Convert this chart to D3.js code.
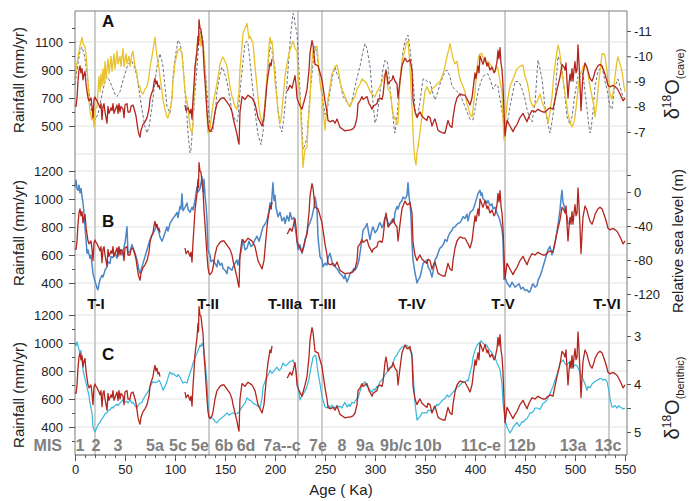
<!DOCTYPE html>
<html><head><meta charset="utf-8">
<script src="https://cdn.jsdelivr.net/npm/d3@7"></script>
<style>
body{margin:0;background:#fff}
svg{display:block}
text{font-family:"Liberation Sans",Arial,Helvetica,sans-serif}
</style>
</head><body>
<svg id="c" width="692" height="501"></svg>
<script>
// ---------------- DATA ----------------
// Rainfall reconstruction (mm/yr) vs age (ka); null = gap
const rainfall = [[0,650],[1,640],[2,700],[3,820],[4,900],[5,930],[6,880],[7,910],[8,830],[9,870],[10,890],[11,800],[12,750],[13,700],[14,680],[16,700],[17,640],[18,560],[19,690],[20,707],[21,690],[22,680],[24,650],[25,630],[26,660],[27,545],[28,640],[29,660],[30,600],[31,560],[32,520],[33,640],[34,590],[36,630],[37,610],[38,660],[39,590],[40,610],[42,650],[43,590],[44,660],[45,600],[46,640],[48,620],[49,560],[50,650],[52,660],[53,600],[55,600],[56,640],[58,650],[60,600],[61,570],[62,520],[63,470],[64,440],[65,420],[66,470],[68,510],[70,530],[72,560],[74,620],[75,690],[76,720],[78,760],[79,810],[80,840],[81,800],[82,820],[83,780],[84,790],[85,760],[86,null],
[109,null],[110,650],[111,610],[113,630],[115,590],[116,620],[117,550],[118,690],[119,800],[120,920],[121,980],[122,1040],[123,1140],[123.5,1080],[124,1260],[125,1200],[126,1190],[127,1120],[128,1070],[129,920],[130,820],[131,710],[132,600],[133,510],[134,470],[135,460],[137,480],[138,510],[140,600],[142,660],[145,690],[147,700],[149,700],[150,690],[152,670],[155,640],[157,600],[158,560],[160,500],[162,440],[163,400],[164,370],[165,600],[167,710],[170,690],[173,720],[175,710],[177,700],[180,660],[183,560],[185,530],[187,500],[189,560],[190,640],[192,800],[193,860],[195,950],[196,930],[197,980],[198,null],
[211,null],[212,750],[213,760],[215,790],[217,770],[220,860],[221,800],[222,700],[224,660],[227,620],[230,700],[232,760],[234,900],[235,1020],[237,1110],[238,1080],[240,940],[243,930],[245,880],[247,830],[250,680],[252,600],[253,540],[255,530],[258,540],[260,520],[262,550],[265,490],[267,480],[270,465],[273,470],[275,470],[278,480],[280,500],[282,560],[283,660],[285,680],[287,710],[288,690],[290,700],[292,710],[294,660],[295,650],[297,620],[298,640],[300,650],[302,660],[303,690],[305,700],[307,690],[308,720],[310,860],[311,900],[312,860],[313,800],[315,820],[317,830],[318,860],[320,820],[322,800],[323,700],[325,820],[327,930],[328,950],[330,985],[332,960],[333,960],[335,975],[337,900],[338,690],[340,600],[342,560],[344,590],[345,600],[347,570],[350,550],[352,540],[353,570],[355,560],[357,500],[359,540],[360,550],[363,470],[365,460],[368,450],[370,450],[373,540],[375,500],[377,490],[378,560],[380,650],[382,700],[385,730],[388,720],[390,720],[393,680],[395,650],[397,700],[398,760],[400,880],[401,840],[403,930],[404,880],[405,1000],[407,960],[408,940],[410,990],[412,930],[413,950],[415,900],[417,920],[419,880],[420,890],[422,960],[423,1040],[424,980],[425,1060],[426,950],[427,900],[428,790],[429,600],[430,430],[432,540],[435,500],[438,460],[440,490],[442,510],[445,560],[448,590],[450,560],[452,530],[454,570],[457,610],[460,600],[463,620],[465,610],[468,600],[470,600],[473,620],[475,630],[478,620],[480,690],[482,760],[483,790],[485,850],[487,940],[489,920],[490,900],[491,950],[492,820],[493,700],[494,800],[495,870],[496,820],[497,910],[498,820],[499,900],[500,960],[501,880],[502,900],[503,1080],[504,950],[505,800],[506,610],[507,750],[508,870],[510,950],[512,920],[513,890],[515,840],[517,820],[519,860],[520,890],[523,930],[525,940],[527,930],[530,870],[532,820],[533,790],[535,780],[538,790],[540,780],[542,770],[545,730],[548,680],[550,700]];

// Cave δ18O (‰)
const caveD18O = [[0,-9.06],[1,-9.5],[3,-9.97],[5,-10.4],[7,-10.76],[8,-10.5],[10,-10.37],[11,-10.1],[12,-9.57],[13,-9.0],[14,-8.27],[15,-7.8],[17,-7.48],[18,-7.7],[19,-7.2],[20,-7.9],[22,-8.0],[23,-8.6],[24,-9.2],[25,-8.6],[26,-9.3],[27,-8.8],[28,-9.5],[29,-8.9],[30,-9.8],[31,-9.1],[33,-9.9],[34,-9.3],[36,-10.0],[37,-9.4],[39,-10.1],[40,-9.5],[42,-10.2],[43,-9.7],[45,-10.0],[46,-9.6],[48,-10.3],[49,-9.6],[51,-10.1],[52,-9.7],[54,-10.0],[55,-9.6],[57,-10.1],[58,-10.2],[60,-9.6],[62,-9.3],[63,-8.9],[65,-8.8],[66,-8.6],[68,-8.5],[70,-8.7],[72,-8.8],[74,-9.2],[75,-9.57],[77,-10.0],[78,-10.25],[80,-10.76],[81,-10.3],[82,-10.0],[84,-9.5],[85,-9.19],[87,-8.6],[88,-8.27],[90,-7.9],[92,-7.6],[93,-7.55],[95,-7.9],[97,-8.3],[98,-9.0],[100,-9.73],[102,-10.1],[103,-10.25],[105,-10.3],[107,-10.1],[108,-9.6],[110,-8.6],[112,-8.2],[113,-8.0],[114,-7.6],[115,-7.2],[117,-6.96],[118,-7.3],[119,-8.5],[120,-9.4],[122,-10.25],[123,-10.8],[124,-10.7],[125,-10.9],[126,-10.4],[127,-10.6],[128,-10.5],[130,-9.6],[131,-8.6],[132,-7.74],[133,-6.96],[135,-7.1],[136,-7.5],[138,-8.1],[140,-8.5],[142,-8.94],[144,-9.4],[145,-9.7],[147,-9.9],[148,-9.97],[150,-9.8],[152,-9.6],[154,-9.1],[155,-8.8],[157,-8.4],[158,-8.3],[160,-8.0],[162,-7.9],[164,-8.6],[165,-9.5],[167,-10.4],[168,-10.9],[170,-11.1],[172,-11.3],[173,-11.0],[174,-10.7],[175,-10.8],[177,-10.6],[178,-10.5],[180,-9.6],[182,-8.8],[184,-8.0],[185,-7.7],[187,-7.4],[188,-7.35],[190,-8.2],[192,-9.2],[194,-10.4],[195,-10.76],[196,-10.5],[197,-10.6],[198,-10.2],[200,-9.0],[202,-8.3],[203,-7.8],[205,-7.35],[206,-7.5],[208,-8.3],[210,-9.2],[212,-9.7],[214,-10.1],[215,-10.25],[217,-10.5],[218,-10.6],[220,-10.3],[222,-10.2],[223,-9.3],[225,-8.3],[226,-7.5],[227,-6.68],[228,-5.6],[229,-6.0],[230,-6.3],[232,-6.4],[233,-7.2],[235,-8.3],[236,-9.3],[238,-10.25],[240,-10.3],[242,-10.4],[243,-9.9],[245,-9.0],[247,-8.4],[248,-8.0],[249,-7.5],[250,-7.08],[251,-7.6],[253,-8.3],[255,-8.8],[257,-9.3],[259,-9.5],[260,-9.6],[262,-9.65],[264,-9.3],[265,-9.0],[267,-8.7],[270,-8.4],[272,-8.2],[275,-8.0],[277,-8.2],[280,-8.4],[282,-8.7],[285,-8.9],[287,-9.1],[290,-9.0],[292,-8.9],[295,-8.6],[297,-8.5],[300,-8.4],[302,-8.6],[305,-8.8],[307,-9.0],[310,-9.3],[312,-9.1],[313,-8.7],[315,-8.6],[317,-8.0],[319,-7.5],[320,-7.6],[322,-7.3],[323,-7.35],[324,-8.2],[325,-9.1],[327,-9.8],[330,-10.25],[331,-10.5],[333,-10.6],[334,-10.1],[335,-9.6],[336,-8.7],[337,-8.0],[338,-7.0],[339,-6.3],[340,-5.9],[341,-5.7],[342,-6.2],[343,-6.4],[345,-7.0],[347,-7.6],[349,-8.3],[350,-8.6],[352,-8.8],[355,-8.5],[357,-8.7],[360,-8.8],[362,-8.9],[365,-9.0],[368,-9.3],[370,-9.6],[372,-10.0],[374,-10.3],[375,-10.5],[376,-10.3],[378,-9.9],[380,-9.7],[382,-9.8],[384,-9.3],[385,-9.1],[387,-8.9],[388,-8.8],[390,-8.6],[392,-8.1],[393,-8.0],[395,-7.7],[397,-7.6],[398,-7.9],[400,-8.6],[402,-9.5],[403,-9.9],[405,-10.1],[407,-10.1],[409,-9.8],[410,-9.9],[412,-9.6],[413,-9.8],[415,-9.7],[417,-9.6],[419,-9.4],[420,-9.4],[422,-9.6],[423,-9.5],[425,-9.0],[427,-8.6],[428,-7.5],[429,-6.68],[430,-7.3],[432,-8.1],[434,-8.6],[435,-8.8],[437,-9.0],[440,-9.3],[442,-9.5],[445,-9.6],[448,-9.65],[450,-9.2],[452,-9.0],[454,-8.6],[455,-8.3],[457,-8.1],[458,-8.0],[460,-8.1],[462,-8.2],[464,-8.4],[465,-8.5],[467,-8.2],[470,-7.9],[472,-7.6],[473,-7.35],[475,-7.8],[477,-8.4],[479,-9.3],[480,-9.65],[482,-10.2],[483,-10.44],[484,-10.3],[486,-9.8],[487,-9.3],[489,-8.8],[490,-8.5],[492,-8.0],[493,-7.7],[495,-7.4],[497,-7.2],[499,-7.4],[500,-7.6],[502,-8.3],[503,-8.7],[505,-9.3],[507,-9.4],[508,-9.6],[510,-9.7],[512,-9.5],[513,-9.3],[515,-8.8],[517,-8.4],[519,-8.0],[520,-7.6],[522,-8.2],[523,-8.7],[525,-9.4],[527,-10.1],[529,-10.1],[530,-10.0],[532,-9.4],[533,-9.0],[535,-8.5],[537,-8.3],[539,-8.8],[540,-9.2],[542,-9.8],[543,-9.97],[545,-9.7],[547,-9.4],[549,-8.8],[550,-8.6]];

// Dashed reference curve (insolation), expressed on the cave δ18O axis
const insolation = [[0,-8.9],[3,-9.7],[5,-10.2],[7,-10.37],[9,-10.1],[10,-9.9],[13,-9.0],[15,-8.2],[17,-7.8],[20,-7.48],[23,-7.7],[25,-8.1],[27,-8.5],[30,-9.0],[32,-9.2],[35,-9.0],[37,-8.8],[40,-8.5],[42,-8.4],[45,-8.6],[47,-8.9],[50,-9.3],[52,-9.57],[55,-9.8],[57,-9.8],[60,-9.5],[62,-9.2],[65,-8.4],[67,-7.9],[70,-7.2],[72,-6.96],[74,-7.2],[77,-8.0],[80,-9.0],[82,-9.6],[85,-10.1],[87,-9.8],[88,-9.6],[90,-8.8],[92,-8.0],[95,-7.74],[97,-8.4],[98,-9.2],[100,-9.9],[103,-10.64],[105,-10.5],[107,-10.1],[109,-9.2],[110,-8.6],[112,-7.6],[113,-6.96],[115,-6.17],[116,-6.3],[118,-7.4],[120,-8.6],[122,-9.57],[124,-10.6],[125,-11.0],[126,-10.9],[128,-10.7],[130,-9.6],[132,-8.6],[134,-7.6],[135,-7.2],[137,-7.0],[138,-7.1],[140,-7.7],[142,-8.6],[145,-9.3],[147,-9.57],[149,-9.4],[152,-9.0],[155,-8.3],[157,-7.8],[160,-7.5],[162,-7.4],[163,-7.6],[165,-8.6],[168,-9.8],[170,-10.5],[172,-10.6],[173,-10.5],[175,-9.8],[178,-8.6],[180,-7.8],[183,-6.9],[186,-6.5],[188,-7.0],[190,-8.0],[192,-9.2],[195,-10.37],[197,-10.2],[200,-9.5],[202,-8.4],[203,-7.9],[205,-7.2],[207,-7.0],[209,-7.6],[212,-8.9],[214,-10.0],[216,-11.0],[218,-11.7],[219,-11.6],[220,-11.3],[222,-10.9],[224,-9.4],[225,-8.6],[227,-7.2],[228,-6.3],[230,-6.5],[232,-6.8],[235,-8.5],[237,-9.3],[240,-10.4],[242,-10.1],[243,-9.8],[245,-9.0],[247,-8.5],[250,-7.7],[252,-7.8],[255,-8.6],[258,-9.3],[260,-9.57],[262,-9.3],[265,-9.0],[268,-8.4],[270,-8.3],[273,-8.1],[275,-8.0],[278,-8.4],[280,-8.8],[283,-9.3],[285,-9.6],[288,-10.2],[290,-10.5],[292,-10.3],[295,-9.6],[298,-8.2],[300,-7.35],[302,-7.6],[305,-8.6],[308,-9.5],[310,-9.85],[312,-9.8],[313,-9.6],[315,-8.8],[317,-8.0],[319,-7.2],[320,-6.96],[322,-7.6],[325,-9.0],[328,-10.2],[330,-10.6],[333,-10.84],[335,-10.3],[337,-9.6],[339,-8.6],[340,-7.9],[342,-7.6],[343,-7.7],[345,-8.2],[348,-9.1],[350,-9.1],[352,-9.0],[355,-9.0],[358,-8.5],[360,-8.27],[363,-8.6],[365,-8.9],[368,-9.2],[370,-9.4],[372,-9.45],[375,-9.2],[377,-8.8],[380,-8.7],[382,-8.6],[385,-8.5],[387,-8.3],[390,-8.0],[393,-7.7],[395,-7.5],[398,-7.48],[400,-7.9],[403,-8.6],[406,-9.0],[408,-9.2],[411,-9.3],[413,-9.3],[416,-9.0],[418,-8.7],[421,-8.9],[423,-8.8],[425,-8.3],[427,-7.8],[430,-7.2],[431,-7.2],[433,-7.5],[435,-8.0],[438,-8.6],[440,-9.0],[443,-9.0],[445,-8.9],[447,-8.7],[450,-8.3],[452,-7.9],[455,-7.5],[457,-7.4],[459,-7.9],[460,-8.1],[462,-9.3],[463,-9.85],[465,-9.5],[467,-9.1],[470,-8.0],[472,-7.5],[475,-6.96],[477,-7.4],[480,-8.2],[482,-9.5],[483,-10.0],[485,-9.8],[487,-9.5],[490,-8.4],[492,-7.6],[495,-7.3],[497,-7.6],[500,-8.5],[503,-9.2],[505,-9.4],[508,-9.3],[510,-8.6],[512,-7.9],[514,-7.2],[515,-6.96],[516,-7.1],[518,-7.8],[520,-8.8],[523,-9.4],[525,-9.5],[527,-9.6],[530,-9.0],[532,-8.7],[535,-8.0],[537,-7.9],[539,-8.6],[540,-8.8],[543,-9.1],[545,-8.8],[548,-8.4],[550,-8.3]];

// Relative sea level (m)
const seaLevel = [[0,6],[1,14],[2,4],[3,2],[4,8],[5,-1],[6,4],[7,-5],[8,-13],[9,-25],[10,-41],[11,-55],[12,-72],[13,-68],[15,-78],[16,-74],[18,-96],[20,-105],[22,-113],[23,-115],[24,-108],[25,-103],[27,-98],[28,-100],[30,-92],[32,-88],[33,-82],[35,-84],[36,-76],[38,-77],[40,-72],[42,-78],[43,-66],[45,-68],[47,-74],[48,-70],[50,-60],[52,-41],[53,-72],[55,-70],[57,-62],[58,-66],[60,-72],[62,-80],[64,-92],[65,-96],[67,-88],[68,-84],[70,-76],[72,-68],[74,-60],[75,-56],[77,-50],[78,-49],[80,-44],[82,-39],[84,-48],[85,-53],[87,-58],[88,-55],[90,-48],[92,-41],[93,-46],[95,-37],[97,-33],[98,-31],[100,-28],[102,-24],[103,-30],[105,-17],[106,-20],[107,-2],[108,-22],[110,-18],[112,-13],[113,-20],[115,-24],[117,-18],[118,-21],[120,-10],[122,6],[123,0],[125,4],[126,10],[127,18],[128,0],[129,15],[130,-5],[131,-15],[132,-33],[133,-68],[134,-72],[135,-74],[136,-82],[138,-80],[140,-84],[142,-88],[143,-80],[145,-86],[147,-84],[148,-90],[150,-92],[152,-96],[153,-88],[155,-90],[157,-92],[158,-88],[160,-84],[162,-80],[163,-86],[165,-76],[166,-70],[168,-56],[170,-68],[172,-66],[174,-58],[176,-64],[178,-62],[180,-56],[182,-52],[184,-58],[186,-50],[188,-41],[190,-38],[192,-33],[194,-22],[195,-13],[196,-20],[197,-5],[198,11],[199,-10],[200,-4],[201,-18],[203,-29],[205,-24],[207,-34],[209,-30],[210,-37],[212,-28],[214,-34],[215,-24],[217,-32],[219,-30],[220,-41],[221,-48],[222,-58],[223,-68],[225,-62],[227,-72],[229,-64],[230,-56],[232,-50],[233,-41],[235,-36],[237,-29],[239,-18],[240,-6],[241,-12],[242,-20],[243,-53],[245,-76],[247,-80],[248,-88],[250,-84],[252,-86],[253,-78],[255,-72],[257,-82],[258,-86],[260,-88],[262,-90],[264,-94],[265,-96],[267,-98],[269,-102],[270,-98],[272,-106],[274,-100],[275,-96],[277,-94],[279,-90],[280,-92],[282,-88],[284,-80],[285,-72],[287,-55],[288,-45],[290,-42],[292,-37],[294,-50],[295,-56],[297,-44],[298,-41],[300,-48],[302,-45],[304,-38],[305,-36],[307,-42],[308,-40],[310,-30],[312,-32],[314,-40],[315,-37],[317,-33],[319,-36],[320,-24],[322,-17],[323,-20],[325,-13],[327,-10],[328,-6],[330,-8],[332,-4],[333,11],[334,-5],[335,-13],[336,-30],[337,-60],[338,-80],[340,-95],[342,-107],[343,-104],[345,-100],[347,-90],[348,-84],[350,-82],[352,-80],[353,-88],[355,-92],[357,-100],[358,-94],[360,-80],[362,-76],[363,-72],[365,-66],[367,-64],[369,-60],[370,-56],[372,-58],[373,-53],[375,-48],[377,-45],[378,-42],[380,-41],[382,-38],[383,-37],[385,-36],[387,-32],[388,-29],[390,-31],[392,-26],[393,-34],[395,-24],[397,-22],[398,-21],[400,-14],[402,-6],[403,-2],[405,2],[406,-4],[407,-1],[408,-8],[410,-10],[412,-13],[413,-10],[415,-16],[417,-14],[418,-20],[420,-18],[422,-25],[424,-30],[425,-34],[427,-44],[428,-56],[429,-103],[430,-100],[432,-107],[434,-110],[435,-112],[437,-106],[438,-108],[440,-112],[442,-110],[444,-108],[446,-114],[448,-112],[450,-116],[452,-115],[454,-118],[455,-117],[457,-110],[458,-108],[460,-112],[462,-110],[463,-104],[465,-99],[467,-92],[468,-88],[470,-80],[472,-72],[473,-68],[475,-64],[477,-74],[478,-70],[480,-60],[482,-46],[484,-30],[485,-21],[486,-8],[487,2],[488,-12],[490,-20],[492,-29],[493,-38]];

// Benthic δ18O (‰)
const benthicD18O = [[0,3.15],[1,3.2],[2,3.12],[3,3.2],[5,3.36],[6,3.3],[8,3.71],[10,3.9],[12,4.06],[14,4.25],[15,4.4],[17,4.6],[18,4.9],[19,4.95],[20,5.0],[21,4.95],[23,4.85],[25,4.8],[27,4.72],[28,4.7],[30,4.62],[32,4.6],[33,4.55],[35,4.54],[37,4.48],[38,4.5],[40,4.45],[42,4.42],[43,4.45],[45,4.4],[47,4.35],[48,4.33],[50,4.38],[52,4.36],[53,4.4],[55,4.33],[57,4.4],[58,4.38],[60,4.45],[62,4.5],[63,4.45],[65,4.4],[67,4.38],[68,4.33],[70,4.25],[72,4.19],[74,4.12],[75,4.06],[77,3.98],[78,3.95],[80,3.97],[82,3.96],[84,3.92],[85,3.96],[87,4.06],[88,4.13],[90,4.05],[92,3.95],[94,3.8],[95,3.75],[97,3.8],[98,3.78],[100,3.82],[102,3.85],[103,3.8],[105,3.86],[106,3.9],[108,3.98],[110,3.96],[112,3.98],[113,3.9],[115,3.77],[117,3.65],[118,3.56],[120,3.45],[122,3.36],[124,3.25],[125,3.19],[126,3.22],[127,3.15],[128,3.2],[129,3.3],[130,3.5],[132,3.98],[133,4.4],[134,4.68],[136,4.7],[138,4.72],[140,4.78],[142,4.81],[144,4.75],[146,4.72],[148,4.68],[150,4.65],[152,4.6],[154,4.65],[156,4.62],[158,4.6],[160,4.62],[162,4.62],[164,4.58],[165,4.54],[167,4.48],[170,4.4],[172,4.29],[174,4.33],[176,4.35],[178,4.4],[180,4.42],[182,4.45],[184,4.48],[185,4.5],[187,4.3],[188,4.06],[190,3.95],[192,3.85],[194,3.78],[195,3.71],[197,3.78],[198,3.75],[200,3.7],[202,3.65],[204,3.72],[206,3.68],[208,3.56],[210,3.62],[212,3.6],[215,3.53],[217,3.52],[218,3.5],[220,3.62],[222,3.88],[223,4.05],[225,4.33],[227,4.25],[228,4.22],[230,4.15],[232,4.05],[234,3.9],[235,3.77],[237,3.55],[238,3.44],[240,3.4],[241,3.42],[242,3.6],[243,3.77],[245,4.0],[247,4.27],[249,4.4],[250,4.48],[252,4.5],[254,4.45],[255,4.5],[257,4.44],[259,4.48],[260,4.5],[262,4.45],[264,4.48],[265,4.46],[267,4.5],[268,4.45],[270,4.38],[272,4.48],[274,4.42],[275,4.47],[277,4.38],[279,4.4],[280,4.36],[282,4.3],[283,4.3],[285,4.15],[287,4.02],[289,3.98],[290,3.95],[292,4.05],[293,4.06],[295,4.12],[297,4.17],[299,4.1],[300,4.13],[302,4.05],[303,4.06],[305,3.95],[307,3.92],[309,3.85],[310,3.81],[312,3.75],[313,3.72],[315,3.65],[317,3.62],[319,3.5],[320,3.44],[322,3.4],[323,3.35],[325,3.28],[327,3.23],[329,3.22],[330,3.19],[332,3.2],[333,3.23],[335,3.3],[337,3.36],[338,3.7],[339,4.06],[340,4.4],[342,4.75],[344,4.7],[345,4.68],[347,4.6],[348,4.6],[350,4.6],[352,4.6],[353,4.55],[355,4.55],[357,4.58],[358,4.56],[360,4.5],[362,4.42],[363,4.45],[365,4.4],[367,4.35],[368,4.33],[370,4.3],[372,4.23],[374,4.27],[376,4.22],[378,4.17],[380,4.12],[382,4.06],[384,4.05],[385,4.02],[387,3.98],[388,3.95],[390,3.96],[392,3.92],[393,3.94],[395,3.77],[397,3.6],[398,3.44],[400,3.3],[402,3.19],[404,3.15],[405,3.13],[406,3.1],[408,3.15],[410,3.18],[412,3.2],[413,3.25],[415,3.3],[417,3.35],[418,3.4],[420,3.45],[422,3.56],[424,3.65],[425,3.7],[427,4.0],[428,4.4],[430,4.75],[432,4.9],[434,4.98],[435,5.02],[437,4.95],[438,4.9],[440,4.85],[442,4.8],[444,4.88],[445,4.86],[447,4.78],[448,4.8],[450,4.75],[452,4.72],[454,4.65],[455,4.6],[457,4.6],[459,4.55],[460,4.5],[462,4.5],[464,4.52],[465,4.53],[467,4.45],[468,4.4],[470,4.38],[472,4.33],[474,4.25],[475,4.2],[477,4.1],[478,4.06],[480,3.92],[482,3.8],[484,3.65],[485,3.56],[487,3.52],[488,3.5],[490,3.58],[492,3.6],[494,3.55],[495,3.58],[497,3.62],[498,3.65],[500,3.6],[502,3.62],[504,3.7],[505,3.77],[507,3.85],[508,3.9],[510,4.0],[512,4.13],[513,4.05],[515,4.08],[517,4.0],[518,3.98],[520,3.95],[522,3.92],[524,3.9],[525,3.88],[527,3.9],[528,3.92],[530,3.9],[532,3.95],[533,4.05],[534,4.15],[535,4.3],[537,4.48],[538,4.48],[540,4.45],[542,4.5],[544,4.45],[545,4.48],[547,4.5],[548,4.52],[550,4.5]];

// Terminations (vertical lines) and labels
const terminationAges = [20, 134, 223, 247, 430, 534];
const terminationLabels = ["T-I","T-II","T-IIIa","T-III","T-IV","T-V","T-VI"];
const terminationLabelAges = [21, 133, 210, 248, 337, 428, 532];

// Marine isotope stages
const misLabels = ["1","2","3","5a","5c","5e","6b","6d","7a--c","7e","8","9a","9b/c","10b","11c-e","12b","13a","13c"];
const misAges = [5, 21, 43, 80, 103, 125, 149, 171, 207, 243, 267, 290, 321, 353, 406, 447, 498, 533];

// Axis ticks
const ageTicks = d3.range(0, 551, 50);
const ageMinor = d3.range(0, 551, 10);
const rainTicksA = [500, 700, 900, 1100];
const rainTicksBC = [400, 600, 800, 1000, 1200];
const caveTicks = [-11, -10, -9, -8, -7];
const seaTicks = [0, -40, -80, -120];
const seaMinor = [20, -20, -60, -100, -140];
const benthicTicks = [3, 4, 5];
const benthicMinor = [3.5, 4.5];

// ---------------- LAYOUT ----------------
const L = 75, R = 627, TOP = 11, BOT = 455;
const svg = d3.select("#c");
const x = d3.scaleLinear().domain([0, 550]).range([75, 625]);
const yA = d3.scaleLinear().domain([500, 1100]).range([126, 42]);
const yB = d3.scaleLinear().domain([400, 1200]).range([283, 171]);
const yC = d3.scaleLinear().domain([400, 1200]).range([427, 315]);
const yCave = d3.scaleLinear().domain([-7, -11]).range([132, 31]);
const ySea = d3.scaleLinear().domain([0, -120]).range([192, 294]);
const yBen = d3.scaleLinear().domain([3, 5]).range([336, 432]);

// grid
const grid = svg.append("g").attr("stroke", "#e2e2e2").attr("stroke-width", 1);
[[yA, [1100, 900, 700, 500, 300]], [yB, [1200, 1000, 800, 600, 400]], [yC, [1200, 1000, 800, 600, 400]]]
  .forEach(([s, vals]) => vals.forEach(v => {
    grid.append("line").attr("x1", L).attr("x2", R).attr("y1", s(v)).attr("y2", s(v));
  }));

// termination lines
svg.append("g").selectAll("line").data(terminationAges).join("line")
  .attr("x1", d => x(d)).attr("x2", d => x(d)).attr("y1", TOP).attr("y2", BOT)
  .attr("stroke", "#cdcdcd").attr("stroke-width", 2);

function drawLine(data, ys, color, width, dash) {
  const line = d3.line().defined(d => d[1] !== null).x(d => x(d[0])).y(d => ys(d[1]));
  const p = svg.append("path").datum(data).attr("d", line).attr("fill", "none")
    .attr("stroke", color).attr("stroke-width", width).attr("stroke-linejoin", "round");
  if (dash) p.attr("stroke-dasharray", dash);
  return p;
}

const RED = "#b3251d";
// Panel A
drawLine(insolation, yCave, "#6e7286", 1, "3,2");
drawLine(caveD18O, yCave, "#e8c22b", 1.3);
drawLine(rainfall, yA, RED, 1.3);
// Panel B
drawLine(seaLevel, ySea, "#4b86c7", 1.5);
drawLine(rainfall, yB, RED, 1.3);
// Panel C
drawLine(benthicD18O, yBen, "#36b7dc", 1.2);
drawLine(rainfall, yC, RED, 1.3);

// frame lines
const frame = svg.append("g").attr("stroke", "#7a7a7a").attr("stroke-width", 1).attr("fill", "none");
frame.append("line").attr("x1", L).attr("x2", R).attr("y1", TOP).attr("y2", TOP);
frame.append("line").attr("x1", L).attr("x2", L).attr("y1", TOP).attr("y2", BOT);
frame.append("line").attr("x1", R).attr("x2", R).attr("y1", TOP).attr("y2", BOT);

function styleAxis(g) {
  g.select(".domain").remove();
  g.selectAll(".tick line").attr("stroke", "#555");
  g.selectAll(".tick text").attr("font-size", 13).attr("fill", "#222")
    .attr("font-family", '"Liberation Sans",Arial,sans-serif');
}

// bottom axis
svg.append("g").attr("transform", `translate(0,${BOT})`)
  .call(d3.axisBottom(x).tickValues(ageMinor).tickSize(3).tickFormat(""))
  .call(styleAxis);
svg.append("g").attr("transform", `translate(0,${BOT})`)
  .call(d3.axisBottom(x).tickValues(ageTicks).tickSize(6).tickPadding(4).tickFormat(d3.format("d")))
  .call(styleAxis);
svg.append("line").attr("x1", L).attr("x2", R).attr("y1", BOT).attr("y2", BOT).attr("stroke", "#555");

// left axes
[[yA, rainTicksA, [600, 800, 1000, 1200]], [yB, rainTicksBC, [500, 700, 900, 1100]], [yC, rainTicksBC, [500, 700, 900, 1100, 300]]]
  .forEach(([s, maj, minr]) => {
    svg.append("g").attr("transform", `translate(${L},0)`)
      .call(d3.axisLeft(s).tickValues(minr).tickSize(3).tickFormat("")).call(styleAxis);
    svg.append("g").attr("transform", `translate(${L},0)`)
      .call(d3.axisLeft(s).tickValues(maj).tickSize(6).tickPadding(6).tickFormat(d3.format("d"))).call(styleAxis);
  });

// right axes
const minusFmt = d => (d < 0 ? "-" + Math.abs(d) : String(d));
svg.append("g").attr("transform", `translate(${R},0)`)
  .call(d3.axisRight(yCave).tickValues(caveTicks).tickSize(4).tickPadding(3).tickFormat(minusFmt)).call(styleAxis);
svg.append("g").attr("transform", `translate(${R},0)`)
  .call(d3.axisRight(ySea).tickValues(seaMinor).tickSize(4).tickFormat("")).call(styleAxis);
svg.append("g").attr("transform", `translate(${R},0)`)
  .call(d3.axisRight(ySea).tickValues(seaTicks).tickSize(4).tickPadding(3).tickFormat(minusFmt)).call(styleAxis);
svg.append("g").attr("transform", `translate(${R},0)`)
  .call(d3.axisRight(yBen).tickValues(benthicMinor).tickSize(4).tickFormat("")).call(styleAxis);
svg.append("g").attr("transform", `translate(${R},0)`)
  .call(d3.axisRight(yBen).tickValues(benthicTicks).tickSize(4).tickPadding(3).tickFormat(d3.format("d"))).call(styleAxis);

// axis titles
[80, 233, 395].forEach(cy => {
  svg.append("text").attr("transform", `translate(24,${cy}) rotate(-90)`)
    .attr("text-anchor", "middle").attr("font-size", 15).attr("fill", "#222").text("Rainfall (mm/yr)");
});
svg.append("text").attr("transform", "translate(683,241) rotate(-90)")
  .attr("text-anchor", "middle").attr("font-size", 15).attr("fill", "#222").text("Relative sea level (m)");

function deltaTitle(cx, cy, sub) {
  const t = svg.append("text").attr("transform", `translate(${cx},${cy}) rotate(-90)`)
    .attr("text-anchor", "middle").attr("fill", "#222");
  t.append("tspan").attr("font-size", 20).text("δ");
  t.append("tspan").attr("font-size", 12).attr("dy", -8).text("18");
  t.append("tspan").attr("font-size", 20).attr("dy", 8).text("O");
  t.append("tspan").attr("font-size", 11).attr("dy", 5).text("(" + sub + ")");
}
deltaTitle(679, 84, "cave");
deltaTitle(679, 398, "benthic");

svg.append("text").attr("x", 341).attr("y", 495).attr("text-anchor", "middle")
  .attr("font-size", 15).attr("fill", "#222").text("Age ( Ka)");

// panel letters
[["A", 27], ["B", 227], ["C", 360]].forEach(([t, yy]) => {
  svg.append("text").attr("x", 102).attr("y", yy).attr("font-size", 17).attr("font-weight", "bold")
    .attr("fill", "#111").text(t);
});

// termination labels
svg.append("g").selectAll("text").data(terminationLabels).join("text")
  .attr("x", (d, i) => x(terminationLabelAges[i])).attr("y", 309).attr("text-anchor", "middle")
  .attr("font-size", 15).attr("font-weight", "bold").attr("fill", "#111").text(d => d);

// MIS labels
svg.append("text").attr("x", 62).attr("y", 451).attr("text-anchor", "end")
  .attr("font-size", 16).attr("font-weight", "bold").attr("fill", "#808080").text("MIS");
svg.append("g").selectAll("text").data(misLabels).join("text")
  .attr("x", (d, i) => x(misAges[i])).attr("y", 451).attr("text-anchor", "middle")
  .attr("font-size", 16).attr("font-weight", "bold").attr("fill", "#808080").text(d => d);
</script>
</body></html>
